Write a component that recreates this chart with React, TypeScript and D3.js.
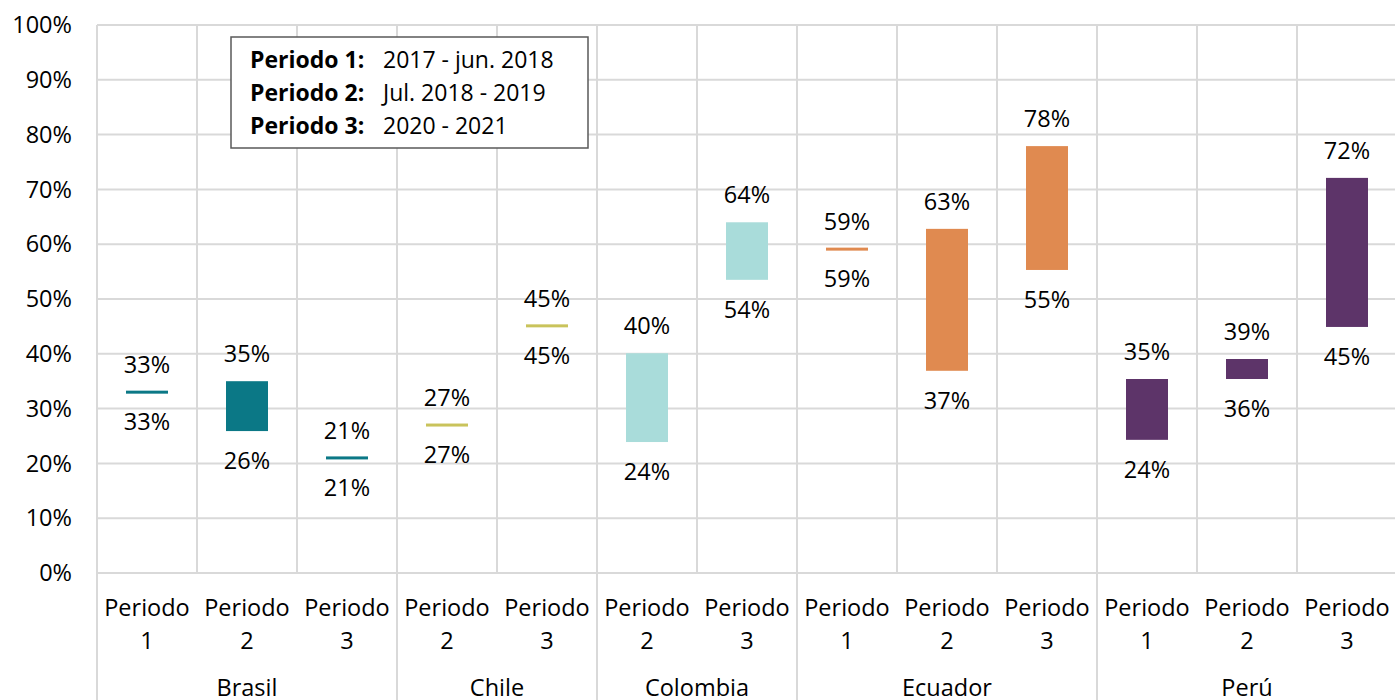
import React from "react";
import * as d3 from "d3";

const countries = ["Brasil", "Chile", "Colombia", "Ecuador", "Perú"];
const countryColors = ["#0b7886", "#c9c35b", "#a9dcda", "#e08a50", "#5d3469"];
const categoryCountry = [0, 0, 0, 1, 1, 2, 2, 3, 3, 3, 4, 4, 4];
const categoryPeriod = ["1", "2", "3", "2", "3", "2", "3", "1", "2", "3", "1", "2", "3"];
const minValues = [33, 26, 21, 27, 45, 24, 54, 59, 37, 55, 24, 36, 45];
const maxValues = [33, 35, 21, 27, 45, 40, 64, 59, 63, 78, 35, 39, 72];
const minPlot = [33, 25.9, 21, 27, 45.1, 23.9, 53.5, 59.1, 36.9, 55.3, 24.3, 35.4, 44.9];
const maxPlot = [33, 35, 21, 27, 45.1, 40.1, 64, 59.1, 62.8, 77.9, 35.4, 39.05, 72.1];
const yTicks = [0, 10, 20, 30, 40, 50, 60, 70, 80, 90, 100];
const legendKeys = ["Periodo 1:", "Periodo 2:", "Periodo 3:"];
const legendValues = ["2017 - jun. 2018", "Jul. 2018 - 2019", "2020 - 2021"];

const W = 1395;
const H = 700;
const left = 97;
const right = 1397;
const top = 25;
const bottom = 573;
const FONT = "'Open Sans', sans-serif";
const grid = "#d9d9d9";
const FS = 23.5;

export default function App() {
  const idx = d3.range(categoryPeriod.length);
  const x = d3.scaleBand<number>().domain(idx).range([left, right]).padding(0);
  const y = d3.scaleLinear().domain([0, 100]).range([bottom, top]);
  const bw = x.bandwidth() * 0.42;

  const groups = countries.map((c, gi) => {
    const members = idx.filter((i) => categoryCountry[i] === gi);
    const x0 = x(members[0])!;
    const x1 = x(members[members.length - 1])! + x.bandwidth();
    return { name: c, x0, x1 };
  });

  return (
    <svg
      width={W}
      height={H}
      style={{ position: "absolute", left: 0, top: 0, background: "#fff" }}
      fontFamily={FONT}
    >
      <rect width={W} height={H} fill="#fff" />
      {yTicks.map((t) => (
        <line key={"h" + t} x1={left} x2={W} y1={y(t)} y2={y(t)} stroke={grid} strokeWidth={2} />
      ))}
      {idx.map((i) => (
        <line key={"v" + i} x1={x(i)!} x2={x(i)!} y1={top} y2={bottom} stroke={grid} strokeWidth={2} />
      ))}
      <line x1={right} x2={right} y1={top} y2={bottom} stroke={grid} strokeWidth={2} />
      {groups.map((g, gi) => (
        <line key={"g" + gi} x1={g.x0} x2={g.x0} y1={bottom} y2={H} stroke={grid} strokeWidth={2} />
      ))}
      {yTicks.map((t) => (
        <text key={"yl" + t} x={72} y={y(t)} dy="0.35em" textAnchor="end" fontSize={FS} fill="#000">
          {t}%
        </text>
      ))}
      {idx.map((i) => {
        const yt = y(maxPlot[i]);
        const yb = y(minPlot[i]);
        const flat = maxPlot[i] === minPlot[i];
        const cx = x(i)! + x.bandwidth() / 2;
        const rTop = flat ? yt - 1.5 : yt;
        const rH = flat ? 3 : yb - yt;
        return (
          <g key={"b" + i}>
            <rect x={cx - bw / 2} y={rTop} width={bw} height={rH} fill={countryColors[categoryCountry[i]]} />
            <text x={cx} y={yt - 19} textAnchor="middle" fontSize={FS} fill="#000">
              {maxValues[i]}%
            </text>
            <text x={cx} y={yb + 38} textAnchor="middle" fontSize={FS} fill="#000">
              {minValues[i]}%
            </text>
          </g>
        );
      })}
      {idx.map((i) => {
        const cx = x(i)! + x.bandwidth() / 2;
        return (
          <g key={"xl" + i}>
            <text x={cx} y={616} textAnchor="middle" fontSize={FS} fill="#000">
              Periodo
            </text>
            <text x={cx} y={649} textAnchor="middle" fontSize={FS} fill="#000">
              {categoryPeriod[i]}
            </text>
          </g>
        );
      })}
      {groups.map((g, gi) => (
        <text key={"gl" + gi} x={(g.x0 + g.x1) / 2} y={696} textAnchor="middle" fontSize={FS} fill="#000">
          {g.name}
        </text>
      ))}
      <rect x={231} y={37} width={357} height={111} fill="#fff" stroke="#595959" strokeWidth={1.5} />
      {legendKeys.map((k, li) => (
        <g key={"lg" + li}>
          <text x={250} y={68 + li * 33} fontSize={23} fontWeight="bold" fill="#000">
            {k}
          </text>
          <text x={383} y={68 + li * 33} fontSize={23} fill="#000">
            {legendValues[li]}
          </text>
        </g>
      ))}
    </svg>
  );
}
